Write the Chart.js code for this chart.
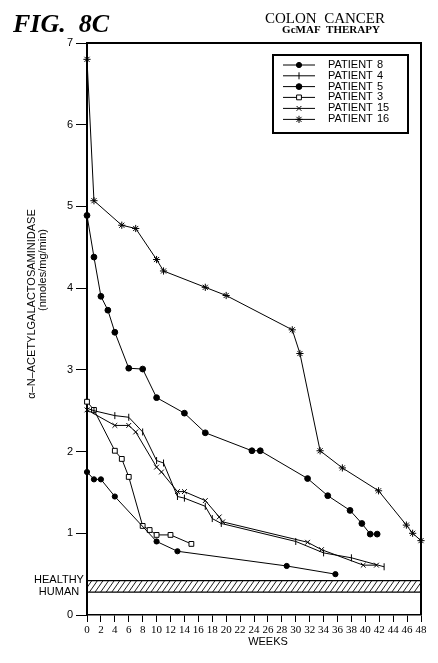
<!DOCTYPE html>
<html><head><meta charset="utf-8">
<script src="https://cdn.jsdelivr.net/npm/chart.js@4"></script>
<style>html,body{margin:0;padding:0;background:#fff}canvas{display:block}</style>
</head><body>
<canvas id="c" width="438" height="663"></canvas>
<script>
// ---- data ----
const weekTicks = [0,2,4,6,8,10,12,14,16,18,20,22,24,26,28,30,32,34,36,38,40,42,44,46,48];
const yTicks = [0,1,2,3,4,5,6,7];
const patientLabels = ['PATIENT 8','PATIENT 4','PATIENT 5','PATIENT 3','PATIENT 15','PATIENT 16'];
const p8Weeks  = [0,1,2,4,10,13,28.7,35.7];
const p8Values = [1.75,1.66,1.66,1.45,0.90,0.78,0.60,0.50];
const p4Weeks  = [0,1,4,6,8,10,11,13,14,17,18,19.3,30,34,38,42.7];
const p4Values = [2.53,2.50,2.44,2.42,2.24,1.89,1.86,1.45,1.43,1.33,1.18,1.12,0.90,0.76,0.70,0.59];
const p5Weeks  = [0,1,2,3,4,6,8,10,14,17,23.7,24.9,31.7,34.6,37.8,39.5,40.7,41.7];
const p5Values = [4.89,4.38,3.90,3.73,3.46,3.02,3.01,2.66,2.47,2.23,2.01,2.01,1.67,1.46,1.28,1.12,0.99,0.99];
const p3Weeks  = [0,1,4,5,6,8,9,10,12,15];
const p3Values = [2.61,2.51,2.01,1.91,1.69,1.09,1.04,0.98,0.98,0.87];
const p15Weeks  = [0,4,6,7,10,10.7,13,14,17,19,19.5,31.7,33.7,39.7,41.6];
const p15Values = [2.51,2.32,2.32,2.24,1.81,1.75,1.51,1.51,1.40,1.20,1.14,0.89,0.80,0.61,0.61];
const p16Weeks  = [0,1,5,7,10,11,17,20,29.5,30.6,33.5,36.7,41.9,45.9,46.8,48];
const p16Values = [6.80,5.07,4.77,4.73,4.35,4.21,4.01,3.91,3.49,3.20,2.01,1.80,1.52,1.10,1.00,0.91];
const healthyRange = [0.28, 0.42];

const pts = (w, v) => w.map((x, i) => ({x, y: v[i]}));

const styles = [
  {pointStyle:'circle', radius:2.6, bg:'#000', rot:0},
  {pointStyle:'line', radius:3.5, bg:'#000', rot:90},
  {pointStyle:'circle', radius:2.9, bg:'#000', rot:0},
  {pointStyle:'rect', radius:3.4, bg:'#fff', rot:0},
  {pointStyle:'crossRot', radius:3.4, bg:'#000', rot:0},
  {pointStyle:'star', radius:3.6, bg:'#000', rot:0}
];
const series = [pts(p8Weeks,p8Values), pts(p4Weeks,p4Values), pts(p5Weeks,p5Values),
                pts(p3Weeks,p3Values), pts(p15Weeks,p15Values), pts(p16Weeks,p16Values)];

const datasets = series.map((d, i) => ({
  label: patientLabels[i],
  data: d,
  borderColor: '#000',
  borderWidth: 1,
  backgroundColor: styles[i].bg,
  pointStyle: styles[i].pointStyle,
  pointRadius: styles[i].radius,
  pointRotation: styles[i].rot,
  pointBorderColor: '#000',
  pointBackgroundColor: styles[i].bg,
  pointBorderWidth: 1,
  tension: 0,
  clip: false
}));

const deco = {
  id: 'deco',
  beforeDatasetsDraw(chart) {
    const {ctx, chartArea: a, scales: {y}} = chart;
    const top = y.getPixelForValue(healthyRange[1]);
    const bot = y.getPixelForValue(healthyRange[0]);
    ctx.save();
    ctx.beginPath(); ctx.rect(a.left, top, a.right - a.left, bot - top); ctx.clip();
    ctx.strokeStyle = '#000'; ctx.lineWidth = 0.9;
    ctx.beginPath();
    for (let x = a.left - 20; x < a.right + 20; x += 5.6) {
      ctx.moveTo(x, bot); ctx.lineTo(x + 8, top);
    }
    ctx.stroke();
    ctx.restore();
    ctx.save();
    ctx.strokeStyle = '#000'; ctx.lineWidth = 1.2;
    ctx.beginPath();
    ctx.moveTo(a.left, top); ctx.lineTo(a.right, top);
    ctx.moveTo(a.left, bot); ctx.lineTo(a.right, bot);
    ctx.stroke();
    // healthy labels
    ctx.fillStyle = '#000';
    ctx.font = '11px "Liberation Sans"';
    ctx.textAlign = 'center'; ctx.textBaseline = 'middle';
    ctx.fillText('HEALTHY', 59, 580);
    ctx.fillText('HUMAN', 59, 592);
    ctx.restore();
  },
  afterDraw(chart) {
    const {ctx, chartArea: a} = chart;
    ctx.save();
    ctx.strokeStyle = '#000';
    ctx.lineWidth = 2;
    ctx.beginPath();
    ctx.moveTo(a.left, a.top); ctx.lineTo(a.right, a.top); ctx.lineTo(a.right, a.bottom);
    ctx.stroke();
    ctx.fillStyle = '#000';
    // headings
    ctx.textBaseline = 'alphabetic';
    ctx.textAlign = 'left';
    ctx.font = 'italic bold 26px "Liberation Serif"';
    ctx.fillText('FIG.  8C', 13, 32);
    ctx.textAlign = 'center';
    ctx.font = '15px "Liberation Serif"';
    ctx.fillText('COLON  CANCER', 325, 23);
    ctx.font = 'bold 11px "Liberation Serif"';
    ctx.fillText('GcMAF  THERAPY', 331, 33);
    // axis titles
    ctx.font = '11px "Liberation Sans"';
    ctx.textBaseline = 'middle';
    ctx.fillText('WEEKS', 268, 642);
    ctx.save();
    ctx.translate(32, 304); ctx.rotate(-Math.PI / 2);
    ctx.fillText('\u03b1\u2013N\u2013ACETYLGALACTOSAMINIDASE', 0, 0);
    ctx.restore();
    ctx.save();
    ctx.translate(43, 270); ctx.rotate(-Math.PI / 2);
    ctx.fillText('(nmoles/mg/min)', 0, 0);
    ctx.restore();
    // legend
    const bx = 273, by = 55, bw = 135, bh = 78;
    ctx.fillStyle = '#fff';
    ctx.fillRect(bx, by, bw, bh);
    ctx.lineWidth = 2; ctx.strokeStyle = '#000';
    ctx.strokeRect(bx, by, bw, bh);
    const rows = [65, 75.8, 86.6, 97.4, 108.4, 119.4];
    chart.data.datasets.forEach((ds, i) => {
      const yy = rows[i];
      ctx.lineWidth = 1; ctx.strokeStyle = '#000';
      ctx.beginPath(); ctx.moveTo(283, yy); ctx.lineTo(315, yy); ctx.stroke();
      ctx.fillStyle = ds.pointBackgroundColor;
      Chart.helpers.drawPoint(ctx, {pointStyle: ds.pointStyle, radius: ds.pointRadius,
        rotation: ds.pointRotation, borderWidth: 1}, 299, yy);
      ctx.fillStyle = '#000';
      ctx.font = '11px "Liberation Sans"';
      ctx.textAlign = 'left'; ctx.textBaseline = 'middle';
      const parts = ds.label.split(' ');
      ctx.fillText(parts[0], 328, yy);
      ctx.fillText(parts[1], 377, yy);
    });
    ctx.restore();
  }
};

new Chart(document.getElementById('c'), {
  type: 'line',
  data: { datasets },
  options: {
    responsive: false,
    animation: false,
    devicePixelRatio: 1,
    layout: { padding: { top: 43, right: 17, left: 0, bottom: 0 } },
    plugins: { legend: { display: false }, tooltip: { enabled: false } },
    scales: {
      x: {
        type: 'linear', min: 0, max: 48,
        afterBuildTicks: s => { s.ticks = weekTicks.map(v => ({value: v})); },
        afterFit: s => { s.height = 48; },
        grid: { display: true, drawOnChartArea: false, drawTicks: true, tickLength: 7, color: '#000', lineWidth: 1 },
        border: { display: true, color: '#000', width: 1.5 },
        ticks: { autoSkip: false, maxRotation: 0, padding: 2, color: '#000',
                 font: { family: '"Liberation Sans Narrow"', size: 11 } }
      },
      y: {
        type: 'linear', min: 0, max: 7,
        afterBuildTicks: s => { s.ticks = yTicks.map(v => ({value: v})); },
        afterFit: s => { s.width = 87; },
        grid: { display: true, drawOnChartArea: false, drawTicks: true, tickLength: 11, color: '#000', lineWidth: 1 },
        border: { display: true, color: '#000', width: 2 },
        ticks: { padding: 3, color: '#000', font: { family: '"Liberation Sans"', size: 11 } }
      }
    }
  },
  plugins: [deco]
});
</script>
</body></html>
